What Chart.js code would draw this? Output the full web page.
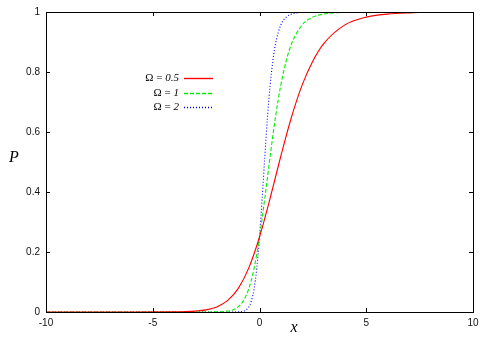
<!DOCTYPE html>
<html>
<head>
<meta charset="utf-8">
<script src="https://cdn.jsdelivr.net/npm/chart.js@4"></script>
<style>
  html, body { margin: 0; padding: 0; background: #fff; }
  #wrap { width: 491px; height: 343px; }
</style>
</head>
<body>
<div id="wrap"><canvas id="pChart"></canvas></div>
<script>
// values
const legendLabels = ['0.5', '1', '2'];
const colors = ['#ff0000', '#00ee00', '#0000ff'];
const dashes = [[], [4, 2], [1, 2]];

const xRed = [-10, -6, -4, -3, -2.5, -2, -1.5, -1, -0.5, 0, 0.5, 1, 1.5, 2, 2.5, 3, 4, 5, 6, 7, 8, 10];
const pRed = [0, 0, 0.0005, 0.003, 0.007, 0.017, 0.038, 0.078, 0.147, 0.25, 0.38, 0.52, 0.65, 0.757, 0.837, 0.894, 0.957, 0.983, 0.993, 0.997, 0.999, 1];

const xGreen = [-10, -3, -2, -1.5, -1.25, -1, -0.75, -0.5, -0.25, 0, 0.25, 0.5, 0.75, 1, 1.25, 1.5, 2, 2.5, 3, 3.5, 4, 10];
const pGreen = [0, 0, 0.0005, 0.003, 0.007, 0.017, 0.038, 0.078, 0.147, 0.25, 0.38, 0.52, 0.65, 0.757, 0.837, 0.894, 0.957, 0.983, 0.993, 0.997, 0.999, 1];

const xBlue = [-10, -1.5, -1, -0.75, -0.625, -0.5, -0.375, -0.25, -0.125, 0, 0.125, 0.25, 0.375, 0.5, 0.625, 0.75, 1, 1.25, 1.5, 1.75, 2, 10];
const pBlue = [0, 0, 0.0005, 0.003, 0.007, 0.017, 0.038, 0.078, 0.147, 0.25, 0.38, 0.52, 0.65, 0.757, 0.837, 0.894, 0.957, 0.983, 0.993, 0.997, 0.999, 1];

const xTicks = [-10, -5, 0, 5, 10];
const yTicks = [0, 0.2, 0.4, 0.6, 0.8, 1];

const pts = (xs, ys) => xs.map((x, i) => ({ x, y: ys[i] }));

// gnuplot-like frame with inward ticks on all four sides
const framePlugin = {
  id: 'frame',
  afterDraw(chart) {
    const { ctx, chartArea: a, scales } = chart;
    ctx.save();
    ctx.strokeStyle = '#000';
    ctx.lineWidth = 1;
    ctx.strokeRect(a.left + 0.5, a.top + 0.5, a.right - a.left, a.bottom - a.top);
    ctx.beginPath();
    xTicks.forEach((v) => {
      const x = Math.round(scales.x.getPixelForValue(v)) + 0.5;
      ctx.moveTo(x, a.bottom); ctx.lineTo(x, a.bottom - 4);
      ctx.moveTo(x, a.top); ctx.lineTo(x, a.top + 4);
    });
    yTicks.forEach((v) => {
      const y = Math.round(scales.y.getPixelForValue(v)) + 0.5;
      ctx.moveTo(a.left, y); ctx.lineTo(a.left + 4, y);
      ctx.moveTo(a.right, y); ctx.lineTo(a.right - 4, y);
    });
    ctx.stroke();

    // axis titles
    ctx.fillStyle = '#000';
    ctx.font = 'italic 16px "Liberation Serif"';
    ctx.textAlign = 'center';
    ctx.textBaseline = 'middle';
    ctx.fillText('x', 294, 328);
    ctx.fillText('P', 14, 158);

    // legend
    legendLabels.forEach((num, i) => {
      const y = 78 + i * 14.7;
      ctx.fillStyle = '#000';
      ctx.font = 'italic 11px "Liberation Serif"';
      ctx.textAlign = 'right';
      const numW = ctx.measureText(num).width;
      ctx.fillText(num, 179, y);
      ctx.font = '11px "Liberation Serif"';
      ctx.fillText('\u03A9 = ', 179 - numW, y);
      ctx.beginPath();
      ctx.strokeStyle = colors[i];
      ctx.lineWidth = 1.4;
      ctx.setLineDash(dashes[i]);
      ctx.moveTo(184, Math.round(y) + 0.5);
      ctx.lineTo(213, Math.round(y) + 0.5);
      ctx.stroke();
      ctx.setLineDash([]);
    });
    ctx.restore();
  }
};

const line = (xs, ys, i) => ({
  data: pts(xs, ys),
  borderColor: colors[i],
  borderWidth: 1.1,
  borderDash: dashes[i],
  pointRadius: 0,
  fill: false,
  cubicInterpolationMode: 'monotone'
});

new Chart(document.getElementById('pChart'), {
  type: 'line',
  data: {
    datasets: [
      line(xRed, pRed, 0),
      line(xGreen, pGreen, 1),
      line(xBlue, pBlue, 2)
    ]
  },
  options: {
    responsive: true,
    maintainAspectRatio: false,
    animation: false,
    layout: { padding: { left: 0, top: 11, right: 18, bottom: 0 } },
    plugins: { legend: { display: false }, tooltip: { enabled: false } },
    scales: {
      x: {
        type: 'linear',
        min: -10, max: 10,
        afterBuildTicks: (s) => { s.ticks = xTicks.map((v) => ({ value: v })); },
        afterFit: (s) => { s.height = 31; },
        grid: { display: false, drawTicks: false },
        border: { display: false },
        ticks: { padding: 5, color: '#111', font: { family: 'Liberation Sans', size: 10 }, maxRotation: 0, callback: (v) => String(v) }
      },
      y: {
        type: 'linear',
        min: 0, max: 1,
        afterBuildTicks: (s) => { s.ticks = yTicks.map((v) => ({ value: v })); },
        afterFit: (s) => { s.width = 46; },
        grid: { display: false, drawTicks: false },
        border: { display: false },
        ticks: { padding: 6, color: '#111', font: { family: 'Liberation Sans', size: 10 }, callback: (v) => String(v) }
      }
    }
  },
  plugins: [framePlugin]
});
</script>
</body>
</html>
